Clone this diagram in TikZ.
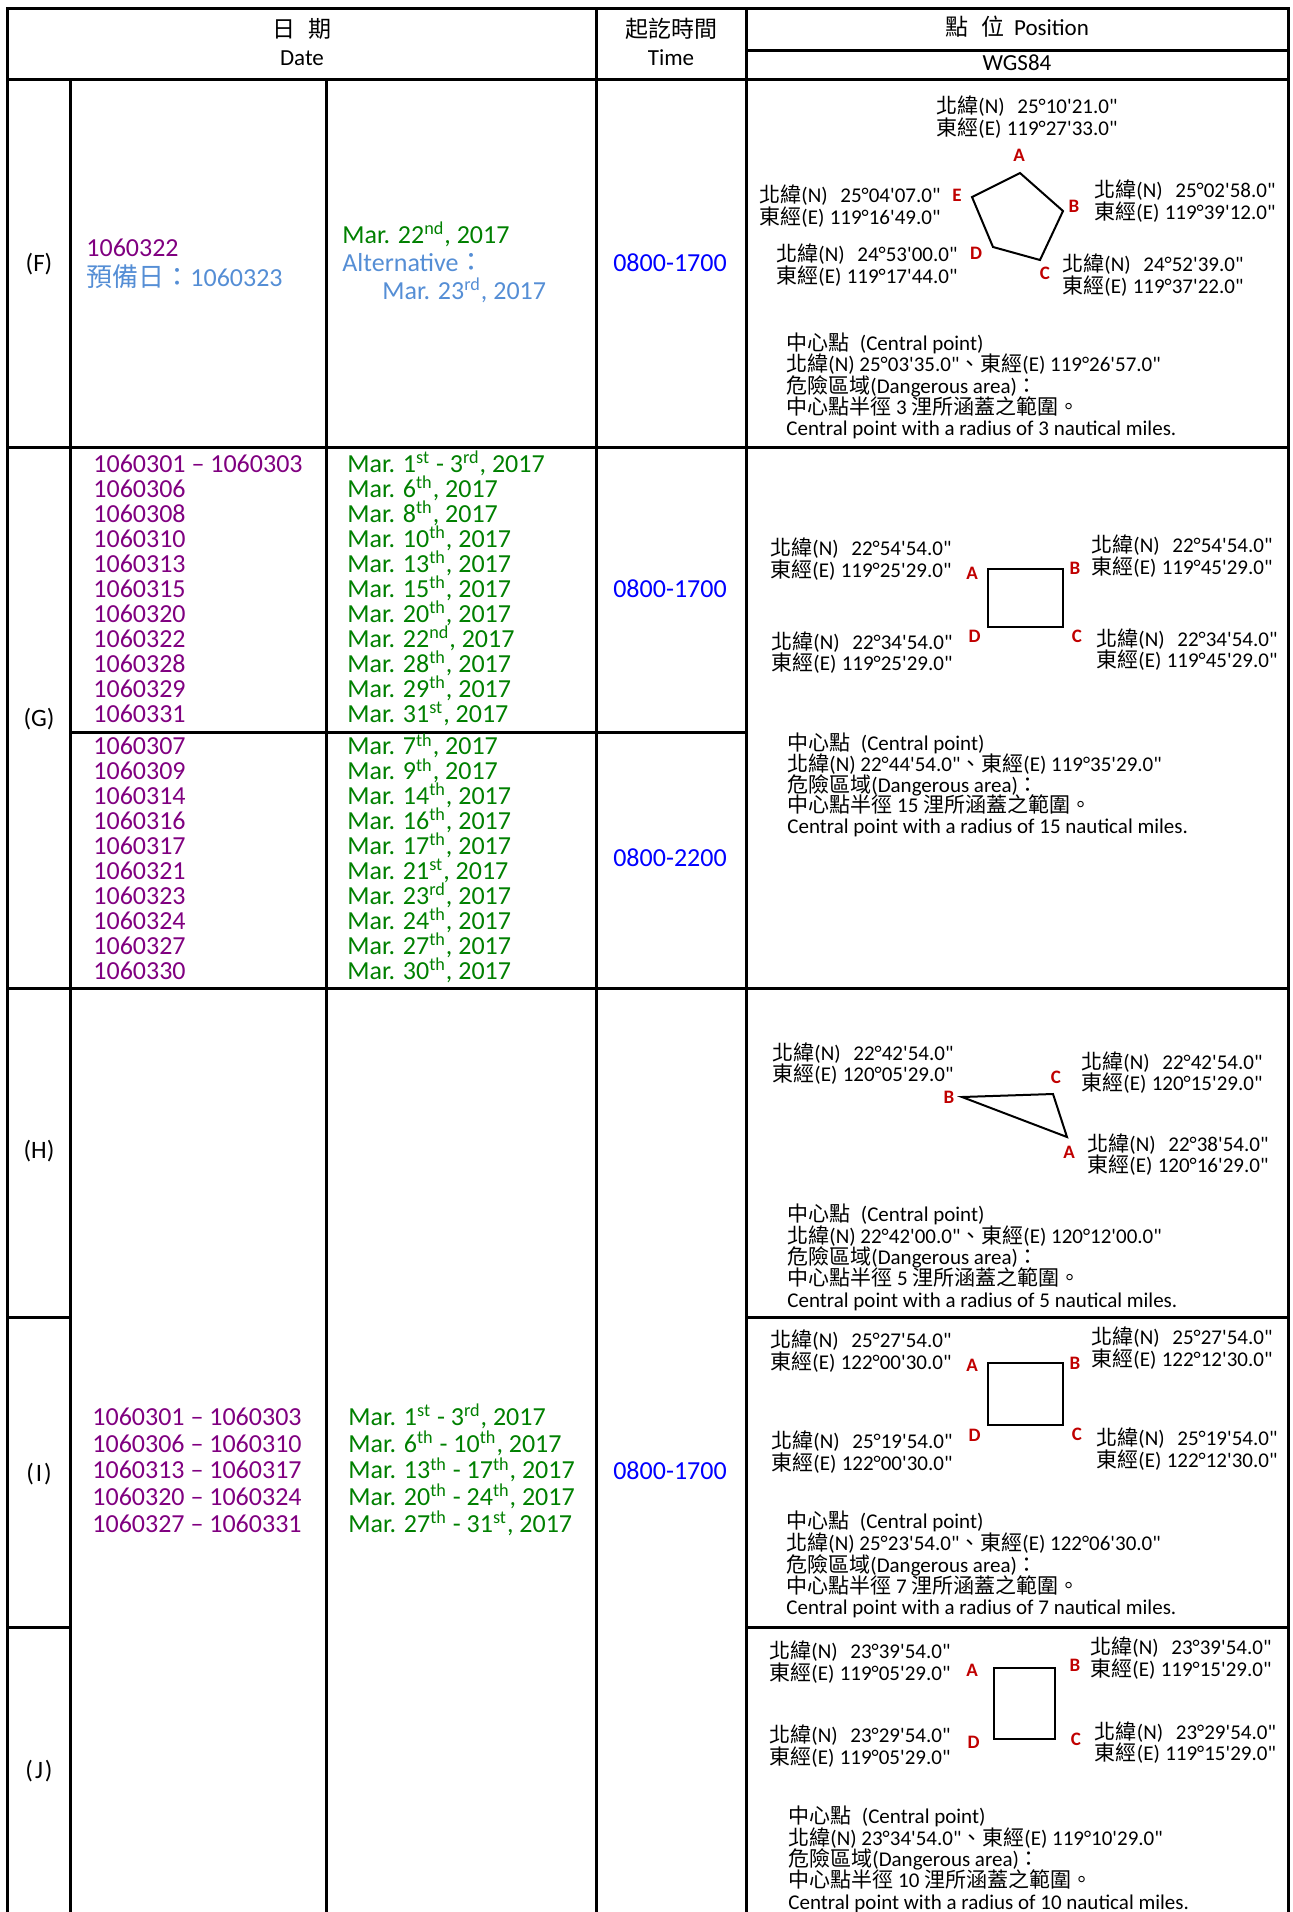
\documentclass[tikz,border=0pt]{standalone}
\usepackage{fontspec}
\setmainfont{Carlito}[Ligatures=TeXOff]
\newfontfamily\cjk{Noto Sans CJK TC}
\definecolor{nt_purple}{RGB}{128,0,128}
\definecolor{nt_lblue}{RGB}{85,142,213}
\definecolor{nt_green}{RGB}{0,128,0}
\definecolor{nt_blue}{RGB}{0,0,255}
\definecolor{nt_red}{RGB}{192,0,0}
\tikzstyle{tline}=[line width=1.5pt, line cap=rect]
\tikzstyle{poly}=[line width=1pt, line join=miter]
\tikzstyle{hd}=[inner sep=0pt, text height=1.36ex, text depth=0pt,
  font={\fontsize{11.5pt}{11.5pt}\selectfont}]
\tikzstyle{lab}=[inner sep=0pt, text height=1.36ex, text depth=0pt,
  font={\fontsize{12.5pt}{12.5pt}\selectfont}]
\tikzstyle{dt}=[inner sep=0pt, anchor=west, text height=1.36ex, text depth=0pt,
  font={\fontsize{13pt}{13pt}\selectfont}]
\tikzstyle{tm}=[inner sep=0pt, text height=1.36ex, text depth=0pt, text=nt_blue,
  font={\fontsize{13pt}{13pt}\selectfont}]
\tikzstyle{ptx}=[inner sep=0pt, anchor=west, font={\fontsize{10.5pt}{10.6pt}\selectfont}]
\tikzstyle{lbl}=[inner sep=0pt, text height=1.36ex, text depth=0pt, text=nt_red,
  font={\fontsize{9.5pt}{9.5pt}\selectfont\bfseries}]
\newcommand{\cj}[1]{\smash{\cjk #1}}
\newcommand{\md}[2]{Mar. #1\textsuperscript{#2}, 2017}
\newcommand{\mr}[4]{Mar. #1\textsuperscript{#2} - #3\textsuperscript{#4}, 2017}
\newcommand{\latlon}[2]{\begin{tabular}{@{}l@{\hspace{0.1em}}r@{}}\cj{北緯}(N) & #1\\\cj{東經}(E) & #2\end{tabular}}
\newcommand{\ctr}[3]{\begin{tabular}{@{}l@{}}\cj{中心點}\hspace{0.5em}(Central point)\\
  \cj{北緯}(N) #1\cj{、東經}(E) #2\\
  \cj{危險區域}(Dangerous area)\cj{：}\\
  \cj{中心點半徑} #3 \cj{浬所涵蓋之範圍。}\\
  Central point with a radius of #3 nautical miles.\end{tabular}}

\begin{document}
\begin{tikzpicture}[x=0.5pt, y=-0.5pt]
    \useasboundingbox (0,0) rectangle (1293,1912);
    % table rules
    \draw [style=tline] (7,1912) -- (7,8) -- (1288,8) -- (1288,1912);
    \draw [style=tline] (746,50) -- (1288,50);
    \draw [style=tline] (7,79) -- (1288,79);
    \draw [style=tline] (70,79) -- (70,1912);
    \draw [style=tline] (326,79) -- (326,1912);
    \draw [style=tline] (596,8) -- (596,1912);
    \draw [style=tline] (746,8) -- (746,1912);
    \draw [style=tline] (7,447) -- (1288,447);
    \draw [style=tline] (70,732) -- (746,732);
    \draw [style=tline] (7,988) -- (1288,988);
    \draw [style=tline] (7,1317) -- (70,1317);
    \draw [style=tline] (746,1317) -- (1288,1317);
    \draw [style=tline] (7,1627) -- (70,1627);
    \draw [style=tline] (746,1627) -- (1288,1627);

    % header
    \node [style=hd] (h1) at (302,31) {{\cjk 日\hspace{0.6em}期}};
    \node [style=hd] (h2) at (302,59) {Date};
    \node [style=hd] (h3) at (671,31) {{\cjk 起訖時間}};
    \node [style=hd] (h4) at (671,59) {Time};
    \node [style=hd] (h5) at (1017,29) {{\cjk 點}\hspace{0.6em}{\cjk 位}\hspace{0.4em}Position};
    \node [style=hd] (h6) at (1017,64) {WGS84};

    % row labels
    \node [style=lab] (F) at (39,265) {(F)};
    \node [style=lab] (G) at (39,720) {(G)};
    \node [style=lab] (H) at (39,1152) {(H)};
    \node [style=lab] (I) at (39,1475) {(\kern1pt I\kern1pt)};
    \node [style=lab] (J) at (39,1772) {(\kern1pt J\kern1pt)};

    % (F) dates
    \node [style=dt, text=nt_purple] (f1) at (86,250) {1060322};
    \node [style=dt, text=nt_lblue] (f2) at (86,280) {{\cjk 預備日：}1060323};
    \node [style=dt, text=nt_green] (f3) at (342,237) {\md{22}{nd}};
    \node [style=dt, text=nt_lblue] (f4) at (342,265) {Alternative{\cjk ：}};
    \node [style=dt, text=nt_lblue] (f5) at (382,293) {\md{23}{rd}};
    \node [style=tm] (f6) at (670,265) {0800-1700};

    % (G) dates
    \foreach \a/\b [count=\i from 0] in {1060301 – 1060303/{\mr{1}{st}{3}{rd}},
        1060306/\md{6}{th}, 1060308/\md{8}{th}, 1060310/\md{10}{th},
        1060313/\md{13}{th}, 1060315/\md{15}{th}, 1060320/\md{20}{th},
        1060322/\md{22}{nd}, 1060328/\md{28}{th}, 1060329/\md{29}{th},
        1060331/\md{31}{st}}
    {
        \node [style=dt, text=nt_purple] (ga\i) at (93,466+25*\i) {\a};
        \node [style=dt, text=nt_green] (gb\i) at (347,466+25*\i) {\b};
    }
    \foreach \a/\b [count=\i from 0] in {1060307/\md{7}{th}, 1060309/\md{9}{th},
        1060314/\md{14}{th}, 1060316/\md{16}{th}, 1060317/\md{17}{th},
        1060321/\md{21}{st}, 1060323/\md{23}{rd}, 1060324/\md{24}{th},
        1060327/\md{27}{th}, 1060330/\md{30}{th}}
    {
        \node [style=dt, text=nt_purple] (gc\i) at (93,748.3+24.93*\i) {\a};
        \node [style=dt, text=nt_green] (gd\i) at (347,748.3+24.93*\i) {\b};
    }
    \node [style=tm] (g1) at (670,591) {0800-1700};
    \node [style=tm] (g2) at (670,860) {0800-2200};

    % (H)-(J) dates
    \foreach \a/\b [count=\i from 0] in {1060301 – 1060303/\mr{1}{st}{3}{rd},
        1060306 – 1060310/\mr{6}{th}{10}{th}, 1060313 – 1060317/\mr{13}{th}{17}{th},
        1060320 – 1060324/\mr{20}{th}{24}{th}, 1060327 – 1060331/\mr{27}{th}{31}{st}}
    {
        \node [style=dt, text=nt_purple] (ia\i) at (92,1419+26.65*\i) {\a};
        \node [style=dt, text=nt_green] (ib\i) at (348,1419+26.65*\i) {\b};
    }
    \node [style=tm] (i1) at (670,1473) {0800-1700};

    % (F) position
    \node [style=ptx] (fA) at (936,120) {\latlon{25°10'21.0"}{119°27'33.0"}};
    \node [style=ptx] (fE) at (759,209) {\latlon{25°04'07.0"}{119°16'49.0"}};
    \node [style=ptx] (fB) at (1094,204) {\latlon{25°02'58.0"}{119°39'12.0"}};
    \node [style=ptx] (fD) at (776,268) {\latlon{24°53'00.0"}{119°17'44.0"}};
    \node [style=ptx] (fC) at (1062,278) {\latlon{24°52'39.0"}{119°37'22.0"}};
    \node [style=lbl] (fLA) at (1019,155) {A};
    \node [style=lbl] (fLB) at (1074,206) {B};
    \node [style=lbl] (fLC) at (1045,273) {C};
    \node [style=lbl] (fLD) at (976,253) {D};
    \node [style=lbl] (fLE) at (957,195) {E};
    \coordinate (fpA) at (1020,173);
    \coordinate (fpB) at (1063,211);
    \coordinate (fpC) at (1040,260);
    \coordinate (fpD) at (993,247);
    \coordinate (fpE) at (972,197);
    \draw [style=poly] (fpA) -- (fpB) -- (fpC) -- (fpD) -- (fpE) -- cycle;
    \node [style=ptx] (fc) at (786,388.5) {\ctr{25°03'35.0"}{119°26'57.0"}{3}};

    % (G) position
    \node [style=ptx] (gA) at (770,562) {\latlon{22°54'54.0"}{119°25'29.0"}};
    \node [style=ptx] (gB) at (1091,559) {\latlon{22°54'54.0"}{119°45'29.0"}};
    \node [style=ptx] (gD) at (771,655.5) {\latlon{22°34'54.0"}{119°25'29.0"}};
    \node [style=ptx] (gC) at (1096,652.5) {\latlon{22°34'54.0"}{119°45'29.0"}};
    \node [style=lbl] (gLA) at (972,573) {A};
    \node [style=lbl] (gLB) at (1075,568) {B};
    \node [style=lbl] (gLC) at (1077,636) {C};
    \node [style=lbl] (gLD) at (974.5,636) {D};
    \coordinate (gpA) at (988,569);
    \coordinate (gpB) at (1063,569);
    \coordinate (gpC) at (1063,627);
    \coordinate (gpD) at (988,627);
    \draw [style=poly] (gpA) -- (gpB) -- (gpC) -- (gpD) -- cycle;
    \node [style=ptx, font={\fontsize{10.5pt}{9.85pt}\selectfont}] (gc) at (787,787)
        {\ctr{22°44'54.0"}{119°35'29.0"}{15}};

    % (H) position
    \node [style=ptx] (hB) at (772,1066.5) {\latlon{22°42'54.0"}{120°05'29.0"}};
    \node [style=ptx] (hC) at (1081,1075.5) {\latlon{22°42'54.0"}{120°15'29.0"}};
    \node [style=ptx] (hA) at (1087,1157.5) {\latlon{22°38'54.0"}{120°16'29.0"}};
    \node [style=lbl] (hLA) at (1069,1152) {A};
    \node [style=lbl] (hLB) at (949,1097) {B};
    \node [style=lbl] (hLC) at (1056,1077) {C};
    \coordinate (hpA) at (1067,1137);
    \coordinate (hpB) at (962,1097);
    \coordinate (hpC) at (1053,1094);
    \draw [style=poly] (hpB) -- (hpC) -- (hpA) -- cycle;
    \node [style=ptx] (hc) at (787,1259.7) {\ctr{22°42'00.0"}{120°12'00.0"}{5}};

    % (I) position
    \node [style=ptx] (iA) at (770,1354) {\latlon{25°27'54.0"}{122°00'30.0"}};
    \node [style=ptx] (iB) at (1091,1350.7) {\latlon{25°27'54.0"}{122°12'30.0"}};
    \node [style=ptx] (iD) at (771,1455) {\latlon{25°19'54.0"}{122°00'30.0"}};
    \node [style=ptx] (iC) at (1096,1452) {\latlon{25°19'54.0"}{122°12'30.0"}};
    \node [style=lbl] (iLA) at (972,1365) {A};
    \node [style=lbl] (iLB) at (1075,1363) {B};
    \node [style=lbl] (iLC) at (1077,1434) {C};
    \node [style=lbl] (iLD) at (974.5,1435) {D};
    \coordinate (ipA) at (988,1363);
    \coordinate (ipB) at (1063,1363);
    \coordinate (ipC) at (1063,1425);
    \coordinate (ipD) at (988,1425);
    \draw [style=poly] (ipA) -- (ipB) -- (ipC) -- (ipD) -- cycle;
    \node [style=ptx] (ic) at (786,1567.4) {\ctr{25°23'54.0"}{122°06'30.0"}{7}};

    % (J) position
    \node [style=ptx] (jA) at (769,1665) {\latlon{23°39'54.0"}{119°05'29.0"}};
    \node [style=ptx] (jB) at (1090,1661) {\latlon{23°39'54.0"}{119°15'29.0"}};
    \node [style=ptx] (jD) at (769,1749) {\latlon{23°29'54.0"}{119°05'29.0"}};
    \node [style=ptx] (jC) at (1094.5,1745.5) {\latlon{23°29'54.0"}{119°15'29.0"}};
    \node [style=lbl] (jLA) at (972,1670) {A};
    \node [style=lbl] (jLB) at (1075,1665) {B};
    \node [style=lbl] (jLC) at (1076,1739) {C};
    \node [style=lbl] (jLD) at (973.5,1742) {D};
    \coordinate (jpA) at (994,1668);
    \coordinate (jpB) at (1055,1668);
    \coordinate (jpC) at (1055,1739);
    \coordinate (jpD) at (994,1739);
    \draw [style=poly] (jpA) -- (jpB) -- (jpC) -- (jpD) -- cycle;
    \node [style=ptx] (jc) at (788,1861.7) {\ctr{23°34'54.0"}{119°10'29.0"}{10}};
\end{tikzpicture}
\end{document}
